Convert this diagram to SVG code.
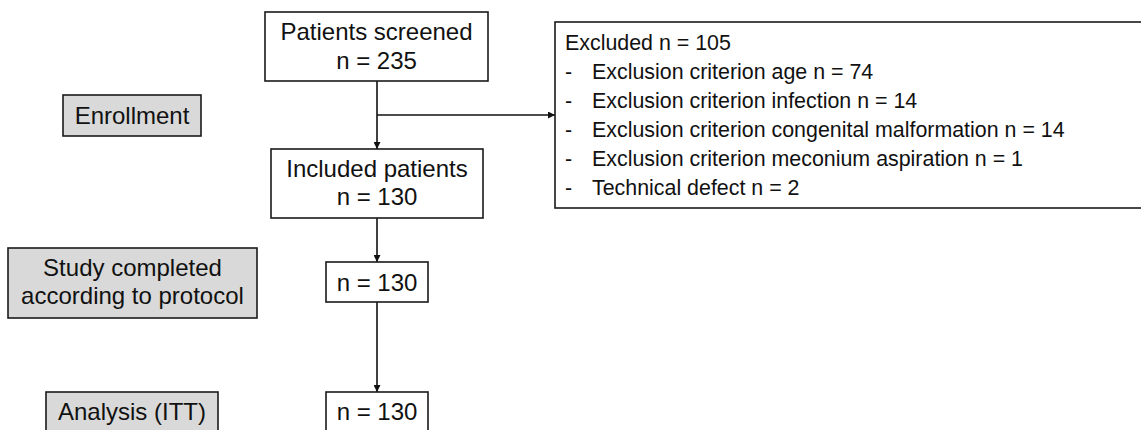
<svg xmlns="http://www.w3.org/2000/svg" width="1141" height="430" viewBox="0 0 1141 430">
<defs>
<style>
.box{fill:#fff;stroke:#1a1a1a;stroke-width:1.6}
.gbox{fill:#d9d9d9;stroke:#1a1a1a;stroke-width:1.6}
text{font-family:"Liberation Sans",Arial,sans-serif;font-size:24px;fill:#111}
.c{text-anchor:middle}
.s{font-size:21.4px}
.edge{fill:none;stroke:#111;stroke-width:1.6}
</style>
<marker id="arr" viewBox="0 0 10 10" refX="10" refY="5" markerWidth="7" markerHeight="7" markerUnits="userSpaceOnUse" orient="auto">
<path d="M0,0 L10,5 L0,10 Z" fill="#111"/>
</marker>
</defs>
<rect width="1141" height="430" fill="#fff"/>
<g id="connectors">
<line class="edge" x1="377" y1="81" x2="377" y2="149" marker-end="url(#arr)"/>
<line class="edge" x1="377" y1="115" x2="555" y2="115" marker-end="url(#arr)"/>
<line class="edge" x1="377" y1="218" x2="377" y2="262" marker-end="url(#arr)"/>
<line class="edge" x1="377" y1="302" x2="377" y2="392" marker-end="url(#arr)"/>
</g>
<g id="screened">
<rect class="box" x="265" y="12" width="223" height="69"/>
<text class="c" x="376.5" y="40">Patients screened</text>
<text class="c" x="376.5" y="69">n = 235</text>
</g>
<g id="included">
<rect class="box" x="271" y="149" width="212" height="69"/>
<text class="c" x="377" y="177">Included patients</text>
<text class="c" x="377" y="205">n = 130</text>
</g>
<g id="excluded">
<rect class="box" x="555" y="22" width="590" height="186"/>
<text class="s" x="565" y="50">Excluded n = 105</text>
<text class="s" x="565" y="79">-</text><text class="s" x="592" y="79">Exclusion criterion age n = 74</text>
<text class="s" x="565" y="108">-</text><text class="s" x="592" y="108">Exclusion criterion infection n = 14</text>
<text class="s" x="565" y="137">-</text><text class="s" x="592" y="137">Exclusion criterion congenital malformation n = 14</text>
<text class="s" x="565" y="166">-</text><text class="s" x="592" y="166">Exclusion criterion meconium aspiration n = 1</text>
<text class="s" x="565" y="195">-</text><text class="s" x="592" y="195">Technical defect n = 2</text>
</g>
<g id="completed">
<rect class="box" x="326" y="262" width="102" height="40"/>
<text class="c" x="377" y="291">n = 130</text>
</g>
<g id="analysis">
<rect class="box" x="326" y="392" width="102" height="42"/>
<text class="c" x="377" y="420">n = 130</text>
</g>
<g id="label-enrollment">
<rect class="gbox" x="63" y="95" width="138" height="41"/>
<text class="c" x="132" y="124">Enrollment</text>
</g>
<g id="label-study">
<rect class="gbox" x="8" y="248" width="249" height="70"/>
<text class="c" x="132.5" y="276">Study completed</text>
<text class="c" x="132.5" y="304">according to protocol</text>
</g>
<g id="label-analysis">
<rect class="gbox" x="46" y="392" width="172" height="42"/>
<text class="c" x="132" y="420">Analysis (ITT)</text>
</g>
</svg>
